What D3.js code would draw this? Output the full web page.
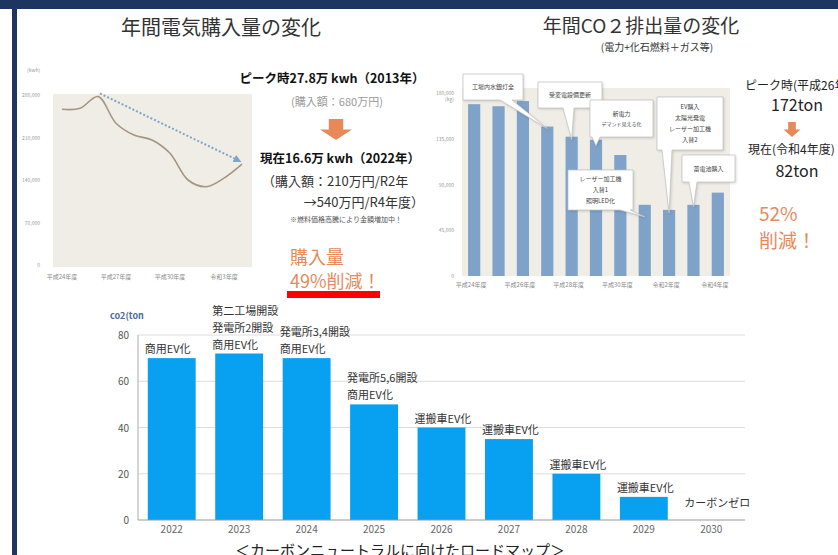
<!DOCTYPE html>
<html>
<head>
<meta charset="utf-8">
<script src="https://cdn.jsdelivr.net/npm/d3@7"></script>
<style>
  body { margin: 0; background: #fff; }
  svg { display: block; font-family: "Noto Sans CJK JP", "Noto Sans", sans-serif; }
</style>
</head>
<body>
<div id="slide"></div>
<script>
// electricity purchase (kwh), H24 .. R4
const elecYears = ["平成24年度", "平成25年度", "平成26年度", "平成27年度", "平成28年度", "平成29年度",
                   "平成30年度", "令和元年度", "令和2年度", "令和3年度", "令和4年度"];
const elecValues = [256500, 258000, 277500, 233500, 214000, 206000, 184000, 140000, 129000, 143000, 166000];
const elecTicks = [0, 70000, 140000, 210000, 280000];

// CO2 emission (kg), H24 .. R4
const co2Years = elecYears;
const co2Values = [169000, 167000, 172000, 147000, 137000, 134000, 119000, 70000, 65000, 70000, 82000];
const co2Ticks = [0, 45000, 90000, 135000, 180000];
const co2Notes = [
  { bar: 3, lines: ["工場内水銀灯全"] },
  { bar: 4, lines: ["受変電設備更新"] },
  { bar: 5, lines: ["新電力", "デマンド見える化"] },
  { bar: 7, lines: ["レーザー加工機", "入替1", "照明LED化"] },
  { bar: 8, lines: ["EV購入", "太陽光発電", "レーザー加工機", "入替2"] },
  { bar: 9, lines: ["蓄電池購入"] }
];

// roadmap (ton)
const roadYears = ["2022", "2023", "2024", "2025", "2026", "2027", "2028", "2029", "2030"];
const roadValues = [70, 72, 70, 50, 40, 35, 20, 10, 0];
const roadLabels = [
  ["商用EV化"],
  ["第二工場開設", "発電所2開設", "商用EV化"],
  ["発電所3,4開設", "商用EV化"],
  ["発電所5,6開設", "商用EV化"],
  ["運搬車EV化"],
  ["運搬車EV化"],
  ["運搬車EV化"],
  ["運搬車EV化"],
  ["カーボンゼロ"]
];
const roadTicks = [0, 20, 40, 60, 80];

const W = 838, H = 555;
const orange = "#e8895a";

const svg = d3.select("#slide").append("svg")
  .attr("width", W).attr("height", H);

// slide frame
svg.append("rect").attr("x", 0).attr("y", 0).attr("width", W).attr("height", 9).attr("fill", "#1c365f");
svg.append("rect").attr("x", 12).attr("y", 0).attr("width", 5).attr("height", H).attr("fill", "#1c365f");

function downArrow(cx, top, w, h) {
  const sw = w * 0.45, sh = h * 0.5;
  svg.append("path")
    .attr("d", `M${cx - sw / 2},${top} h${sw} v${sh} h${(w - sw) / 2} L${cx},${top + h} L${cx - w / 2},${top + sh} h${(w - sw) / 2} Z`)
    .attr("fill", orange);
}

// ---------- left: electricity line chart ----------
svg.append("text").attr("x", 221).attr("y", 35).attr("text-anchor", "middle")
  .attr("font-size", 20).attr("fill", "#333").text("年間電気購入量の変化");

const xL = d3.scaleLinear().domain([0, elecYears.length - 1]).range([62, 242]);
const yL = d3.scaleLinear().domain([0, 280000]).range([265, 95]);

svg.append("rect").attr("x", 53).attr("y", 94).attr("width", 199).attr("height", 173).attr("fill", "#efede6");

svg.append("text").attr("x", 27).attr("y", 72).attr("font-size", 5).attr("fill", "#999").text("(kwh)");
svg.append("g").selectAll("text").data(elecTicks).join("text")
  .attr("x", 40).attr("y", d => yL(d) + 2).attr("text-anchor", "end")
  .attr("font-size", 5).attr("fill", "#999").text(d => d3.format(",")(d));

svg.append("g").selectAll("text").data(elecYears.filter((d, i) => i % 3 === 0)).join("text")
  .attr("x", (d, i) => xL(i * 3)).attr("y", 279).attr("text-anchor", "middle")
  .attr("font-size", 6).attr("fill", "#888").text(d => d);

svg.append("path").datum(elecValues)
  .attr("d", d3.line().x((d, i) => xL(i)).y(d => yL(d)).curve(d3.curveCatmullRom.alpha(0.5)))
  .attr("fill", "none").attr("stroke", "#a39682").attr("stroke-width", 1.6);

svg.append("defs").append("marker").attr("id", "ah").attr("viewBox", "0 0 10 10")
  .attr("refX", 8).attr("refY", 5).attr("markerWidth", 4).attr("markerHeight", 4).attr("orient", "auto")
  .append("path").attr("d", "M0,0 L10,5 L0,10 Z").attr("fill", "#7fa5c8");
const peakI = elecValues.indexOf(d3.max(elecValues));
const lastI = elecValues.length - 1;
svg.append("line")
  .attr("x1", xL(peakI) + 2).attr("y1", yL(elecValues[peakI]) - 3)
  .attr("x2", xL(lastI) - 2).attr("y2", yL(elecValues[lastI]) - 3)
  .attr("stroke", "#7fa5c8").attr("stroke-width", 2).attr("stroke-dasharray", "2,2")
  .attr("marker-end", "url(#ah)");

const tl = svg.append("g");
tl.append("text").attr("x", 332).attr("y", 83).attr("text-anchor", "middle").attr("font-size", 12.5)
  .attr("font-weight", "bold").attr("fill", "#111").text("ピーク時27.8万 kwh（2013年）");
tl.append("text").attr("x", 337).attr("y", 106).attr("text-anchor", "middle").attr("font-size", 11)
  .attr("fill", "#999").text("(購入額：680万円)");
downArrow(336, 119, 32, 21);
tl.append("text").attr("x", 340).attr("y", 163).attr("text-anchor", "middle").attr("font-size", 12.5)
  .attr("font-weight", "bold").attr("fill", "#111").text("現在16.6万 kwh（2022年）");
tl.append("text").attr("x", 262).attr("y", 186).attr("font-size", 13).attr("fill", "#333")
  .text("（購入額：210万円/R2年");
tl.append("text").attr("x", 424).attr("y", 207).attr("text-anchor", "end").attr("font-size", 13).attr("fill", "#333")
  .text("→540万円/R4年度）");
tl.append("text").attr("x", 346).attr("y", 222).attr("text-anchor", "middle").attr("font-size", 7)
  .attr("fill", "#555").text("※燃料価格高騰により金額増加中！");
tl.append("text").attr("x", 290).attr("y", 264).attr("font-size", 18).attr("fill", orange).text("購入量");
tl.append("text").attr("x", 290).attr("y", 288).attr("font-size", 18).attr("fill", orange).text("49%削減！");
tl.append("rect").attr("x", 287).attr("y", 291).attr("width", 93).attr("height", 7).attr("fill", "#ff0000");

// ---------- right: CO2 bar chart ----------
svg.append("text").attr("x", 641).attr("y", 33).attr("text-anchor", "middle")
  .attr("font-size", 19).attr("fill", "#333").text("年間CO２排出量の変化");
svg.append("text").attr("x", 657).attr("y", 51).attr("text-anchor", "middle")
  .attr("font-size", 10).attr("fill", "#333").text("(電力+化石燃料＋ガス等)");

const xR = d3.scaleBand().domain(d3.range(co2Years.length)).range([462, 730]);
const yR = d3.scaleLinear().domain([0, 180000]).range([276, 93]);
const bw = xR.bandwidth();

svg.append("rect").attr("x", 462).attr("y", 88).attr("width", 268).attr("height", 188).attr("fill", "#efede6");

svg.append("g").selectAll("text").data(co2Ticks).join("text")
  .attr("x", 454).attr("y", d => yR(d) + 2).attr("text-anchor", "end")
  .attr("font-size", 5).attr("fill", "#999").text(d => d3.format(",")(d));
svg.append("text").attr("x", 454).attr("y", 101).attr("text-anchor", "end")
  .attr("font-size", 5).attr("fill", "#999").text("(kg)");

svg.append("g").selectAll("rect").data(co2Values).join("rect")
  .attr("x", (d, i) => xR(i) + bw * 0.25).attr("width", bw * 0.5)
  .attr("y", d => yR(d)).attr("height", d => yR(0) - yR(d))
  .attr("fill", "#7fa2c8");

svg.append("g").selectAll("text").data(co2Years.filter((d, i) => i % 2 === 0)).join("text")
  .attr("x", (d, i) => xR(i * 2) + bw / 2 - 3).attr("y", 287).attr("text-anchor", "middle")
  .attr("font-size", 6).attr("fill", "#888").text(d => d);

// callouts
const noteBoxes = [
  { x: 463, y: 74, w: 60, h: 26, b0: 500, b1: 512, dy: 2 },
  { x: 538, y: 82, w: 64, h: 26, b0: 563, b1: 574, dy: 3 },
  { x: 590, y: 100, w: 63, h: 37, b0: 592, b1: 600, dy: 6 },
  { x: 568, y: 170, w: 65, h: 40, b0: 620, b1: 630, dy: 12 },
  { x: 657, y: 97, w: 66, h: 53, b0: 662, b1: 672, dy: 3 },
  { x: 682, y: 155, w: 53, h: 27, b0: 689, b1: 697, dy: 2 }
];
co2Notes.forEach((n, k) => {
  const b = noteBoxes[k];
  const tx = xR(n.bar) + bw / 2, ty = yR(co2Values[n.bar]) + b.dy;
  const bot = b.y + b.h;
  const g = svg.append("g");
  g.append("path")
    .attr("d", `M${b.x},${b.y} H${b.x + b.w} V${bot} H${b.b1} L${tx},${ty} L${b.b0},${bot} H${b.x} Z`)
    .attr("fill", "#fff").attr("stroke", "#c4c4c4").attr("stroke-width", 0.8)
    .style("filter", "drop-shadow(1px 1px 1px rgba(0,0,0,0.15))");
  const lh = n.lines.length > 2 ? 11 : 10;
  const y0 = b.y + b.h / 2 - (n.lines.length - 1) * lh / 2 + 2;
  g.selectAll("text").data(n.lines).join("text")
    .attr("x", b.x + b.w / 2).attr("y", (d, i) => y0 + i * lh).attr("text-anchor", "middle")
    .attr("font-size", (d, i) => (n.bar === 5 && i === 1) ? 5 : 6).attr("fill", "#444").text(d => d);
});

const tr = svg.append("g");
tr.append("text").attr("x", 745).attr("y", 90).attr("font-size", 12).attr("fill", "#222").text("ピーク時(平成26年度)");
tr.append("text").attr("x", 797).attr("y", 111).attr("text-anchor", "middle").attr("font-size", 16).attr("fill", "#222").text("172ton");
downArrow(792, 122, 17, 15);
tr.append("text").attr("x", 748).attr("y", 154).attr("font-size", 12).attr("fill", "#222").text("現在(令和4年度)");
tr.append("text").attr("x", 797).attr("y", 177).attr("text-anchor", "middle").attr("font-size", 16).attr("fill", "#222").text("82ton");
tr.append("text").attr("x", 759).attr("y", 221).attr("font-size", 19).attr("fill", orange).text("52%");
tr.append("text").attr("x", 759).attr("y", 248).attr("font-size", 19).attr("fill", orange).text("削減！");

// ---------- bottom: roadmap bar chart ----------
const xB = d3.scaleBand().domain(roadYears).range([138, 745]).paddingInner(0.29).paddingOuter(0.145);
const yB = d3.scaleLinear().domain([0, 80]).range([520, 335]);

svg.append("text").attr("x", 110).attr("y", 319).attr("font-size", 9).attr("font-weight", "bold")
  .attr("fill", "#4a6a99").text("co2(ton");

svg.append("g").selectAll("line").data(roadTicks.slice(1)).join("line")
  .attr("x1", 138).attr("x2", 745).attr("y1", d => yB(d)).attr("y2", d => yB(d))
  .attr("stroke", "#dcdcdc").attr("stroke-width", 1);
svg.append("g").selectAll("text").data(roadTicks).join("text")
  .attr("x", 129).attr("y", d => yB(d) + 4).attr("text-anchor", "end")
  .attr("font-size", 10).attr("fill", "#555").text(d => d);

svg.append("g").selectAll("rect").data(roadValues).join("rect")
  .attr("x", (d, i) => xB(roadYears[i])).attr("width", xB.bandwidth())
  .attr("y", d => yB(d)).attr("height", d => yB(0) - yB(d))
  .attr("fill", "#08a0f0");

svg.append("line").attr("x1", 138).attr("x2", 138).attr("y1", yB(80)).attr("y2", yB(0)).attr("stroke", "#aaa");
svg.append("line").attr("x1", 138).attr("x2", 745).attr("y1", yB(0)).attr("y2", yB(0)).attr("stroke", "#999");

svg.append("g").selectAll("text").data(roadYears).join("text")
  .attr("x", d => xB(d) + xB.bandwidth() / 2).attr("y", 533).attr("text-anchor", "middle")
  .attr("font-size", 10).attr("fill", "#666").text(d => d);

roadLabels.forEach((lines, i) => {
  const x0 = xB(roadYears[i]) - 3;
  const base = yB(roadValues[i]) - (roadValues[i] === 0 ? 13 : 5);
  svg.append("g").selectAll("text").data(lines).join("text")
    .attr("x", x0).attr("y", (d, j) => base - (lines.length - 1 - j) * 17)
    .attr("font-size", 11).attr("fill", "#333").text(d => d);
});

svg.append("text").attr("x", 400).attr("y", 556).attr("text-anchor", "middle")
  .attr("font-size", 15).attr("fill", "#222").text("＜カーボンニュートラルに向けたロードマップ＞");
</script>
</body>
</html>
